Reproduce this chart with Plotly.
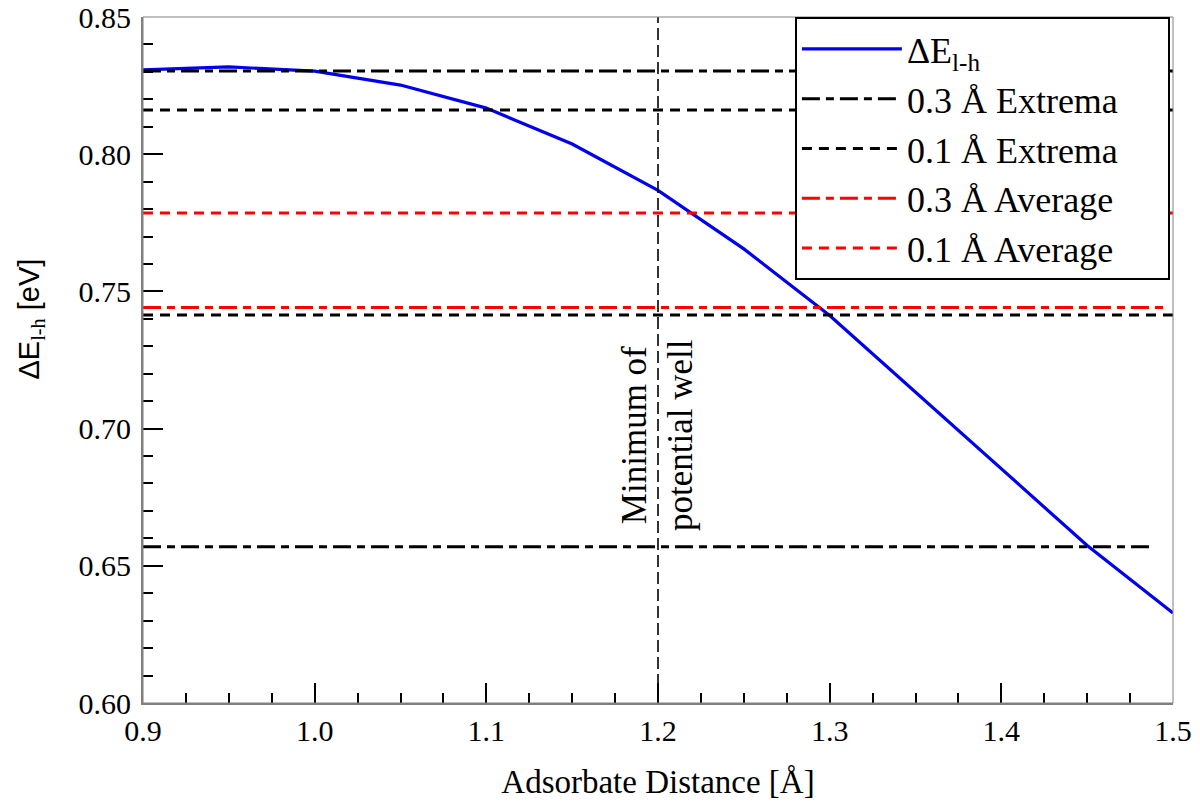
import plotly.graph_objects as go

# Data
distance = [0.9, 0.95, 1.0, 1.05, 1.1, 1.15, 1.2, 1.25, 1.3, 1.35, 1.4, 1.45, 1.5]
delta_e = [0.8307, 0.8318, 0.8303, 0.8252, 0.8168, 0.8037, 0.7868, 0.7655, 0.7412, 0.7132, 0.6852, 0.6574, 0.6328]

ext03_x = [0.9, 1.5, None, 0.9, 1.488]
ext03_y = [0.8303, 0.8303, None, 0.6569, 0.6569]
ext01_x = [0.9, 1.5, None, 0.9, 1.5]
ext01_y = [0.8161, 0.8161, None, 0.7414, 0.7414]
avg03_x = [0.9, 1.495]
avg03_y = [0.7441, 0.7441]
avg01_x = [0.9, 1.5]
avg01_y = [0.7786, 0.7786]

min_well_x = 1.2
annot_y = 0.6977

FONT = "Liberation Serif"
SANS = "Liberation Sans"
PAD = "\u00a0" * 5  # right padding inside legend box

fig = go.Figure()
fig.add_trace(go.Scatter(x=distance, y=delta_e, mode="lines", name="ΔE<sub>l-h</sub>",
                         line=dict(color="#0000ee", width=3.2)))
fig.add_trace(go.Scatter(x=ext03_x, y=ext03_y, mode="lines", name="0.3 Å Extrema" + PAD,
                         line=dict(color="black", width=3, dash="18px,6px,8px,6px")))
fig.add_trace(go.Scatter(x=ext01_x, y=ext01_y, mode="lines", name="0.1 Å Extrema" + PAD,
                         line=dict(color="black", width=3, dash="10px,7px")))
fig.add_trace(go.Scatter(x=avg03_x, y=avg03_y, mode="lines", name="0.3 Å Average" + PAD,
                         line=dict(color="#ff0000", width=3, dash="18px,6px,8px,6px")))
fig.add_trace(go.Scatter(x=avg01_x, y=avg01_y, mode="lines", name="0.1 Å Average" + PAD,
                         line=dict(color="#ff0000", width=3, dash="10px,7px")))

fig.add_shape(type="line", x0=min_well_x, x1=min_well_x, y0=0, y1=1, xref="x", yref="paper",
              line=dict(color="black", width=1.6, dash="12px,5px"), layer="above")
fig.add_shape(type="rect", x0=0, x1=1, y0=0, y1=1, xref="paper", yref="paper",
              line=dict(color="#808080", width=1), layer="above")

fig.add_annotation(x=min_well_x, y=annot_y, xref="x", yref="y", text="Minimum of<br>potential well",
                   textangle=-90, showarrow=False, font=dict(family=FONT, size=35, color="black"),
                   xanchor="center", yanchor="middle", bgcolor="rgba(0,0,0,0)")

fig.add_annotation(x=-0.109, y=0.56, xref="paper", yref="paper",
                   text="ΔE<span style='font-family:Liberation Serif'><sub>l-h</sub></span> [eV]",
                   textangle=-90, showarrow=False, font=dict(family=SANS, size=29, color="black"),
                   xanchor="center", yanchor="middle")

fig.update_layout(
    template="none",
    width=1200, height=809,
    margin=dict(l=143, r=27, t=17, b=106, autoexpand=False),
    paper_bgcolor="white", plot_bgcolor="white",
    font=dict(family=FONT, color="black", size=30),
    showlegend=True,
    legend=dict(x=0.997, y=1.0, xanchor="right", yanchor="top",
                bgcolor="white", bordercolor="black", borderwidth=2,
                font=dict(family=FONT, size=36, color="black"),
                itemwidth=100, tracegroupgap=0),
    xaxis=dict(
        range=[0.9, 1.5], dtick=0.1, tick0=0.9, tickformat=".1f",
        showgrid=False, zeroline=False, showline=True, linecolor="#808080", linewidth=2,
        mirror=False, ticks="inside", ticklen=20, tickwidth=1.5, tickcolor="black",
        automargin=False,
        tickfont=dict(family=FONT, size=30, color="black"),
        minor=dict(dtick=0.025, ticks="inside", ticklen=10, tickwidth=1.5, tickcolor="black", showgrid=False),
        title=dict(text="Adsorbate Distance [Å]", font=dict(family=FONT, size=33, color="black"), standoff=24),
    ),
    yaxis=dict(
        range=[0.6, 0.85], dtick=0.05, tick0=0.6, tickformat=".2f",
        showgrid=False, zeroline=False, showline=True, linecolor="#808080", linewidth=2,
        mirror=False, ticks="inside", ticklen=20, tickwidth=1.5, tickcolor="black",
        automargin=False, ticklabelstandoff=4,
        tickfont=dict(family=FONT, size=30, color="black"),
        minor=dict(dtick=0.01, ticks="inside", ticklen=10, tickwidth=1.5, tickcolor="black", showgrid=False),
    ),
)

fig.write_html("out.html", post_script="document.body.style.margin='0';",
               config={"displayModeBar": False})
